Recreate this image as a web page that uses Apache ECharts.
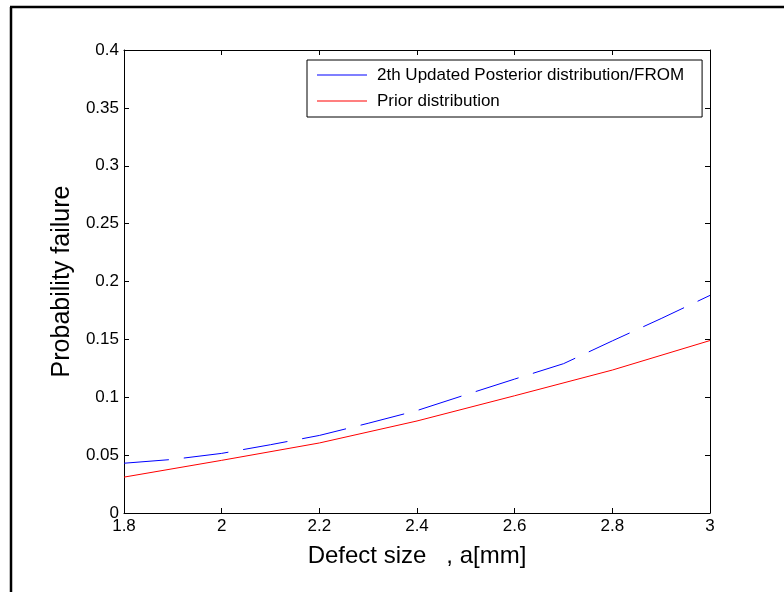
<!DOCTYPE html>
<html>
<head>
<meta charset="utf-8">
<script src="https://cdn.jsdelivr.net/npm/echarts@6/dist/echarts.min.js"></script>
<style>
html,body{margin:0;padding:0;background:#fff;}
#chart{width:784px;height:592px;}
</style>
</head>
<body>
<div id="chart"></div>
<script>
// Data
const posteriorX = [1.8, 1.9, 2.0, 2.1, 2.2, 2.3, 2.4, 2.5, 2.6, 2.7, 2.8, 2.9, 3.0];
const posteriorY = [0.043, 0.0463, 0.0515, 0.059, 0.067, 0.0775, 0.0885, 0.1022, 0.1157, 0.129, 0.1487, 0.168, 0.188];
const priorX = [1.8, 2.0, 2.2, 2.4, 2.6, 2.8, 3.0];
const priorY = [0.031, 0.0455, 0.0605, 0.0795, 0.1013, 0.1235, 0.149];
const seriesNames = ['2th Updated Posterior distribution/FROM', 'Prior distribution'];
const xTitle = 'Defect size   , a[mm]';
const yTitle = 'Probability failure';

const font = 'Arial, "Liberation Sans", Helvetica, sans-serif';
const chart = echarts.init(document.getElementById('chart'), null, {renderer: 'canvas'});

function pairs(xs, ys) { return xs.map((x, i) => [x, ys[i]]); }

const axisCommon = {
  axisLine: {show: true, onZero: false, lineStyle: {color: '#000', width: 1}},
  axisTick: {show: true, inside: true, length: 5, lineStyle: {color: '#000'}},
  splitLine: {show: false}
};

chart.setOption({
  animation: false,
  backgroundColor: '#fff',
  textStyle: {fontFamily: font},
  grid: {left: 124, right: 74, top: 50, bottom: 79},
  graphic: [
    {type: 'line', shape: {x1: 10, y1: 7, x2: 784, y2: 7}, style: {stroke: '#000', lineWidth: 2.5}},
    {type: 'line', shape: {x1: 11, y1: 7, x2: 11, y2: 592}, style: {stroke: '#000', lineWidth: 2.5}}
  ],
  legend: {
    orient: 'vertical',
    left: 307, top: 60,
    padding: [5, 18, 6, 10],
    itemGap: 6,
    itemWidth: 50,
    itemHeight: 14,
    backgroundColor: '#fff',
    borderColor: '#000',
    borderWidth: 1,
    borderRadius: 0,
    textStyle: {fontSize: 17, color: '#000', fontFamily: font, lineHeight: 20, padding: [0, 0, 0, 5]},
    data: [
      {name: seriesNames[0], icon: 'path://M0,0 L50,0 L50,1 L0,1 Z', itemStyle: {color: '#0000ff'}},
      {name: seriesNames[1], icon: 'path://M0,0 L50,0 L50,1 L0,1 Z', itemStyle: {color: '#ff0000'}}
    ]
  },
  xAxis: [
    Object.assign({
      type: 'value', min: 1.8, max: 3, interval: 0.2, position: 'bottom',
      name: xTitle, nameLocation: 'middle', nameGap: 31,
      nameTextStyle: {fontSize: 24, color: '#000', fontFamily: font},
      axisLabel: {fontSize: 17, color: '#000', margin: 5, fontFamily: font}
    }, axisCommon),
    Object.assign({
      type: 'value', min: 1.8, max: 3, interval: 0.2, position: 'top',
      axisLabel: {show: false}
    }, axisCommon)
  ],
  yAxis: [
    Object.assign({
      type: 'value', min: 0, max: 0.4, interval: 0.05, position: 'left',
      name: yTitle, nameLocation: 'middle', nameGap: 48,
      nameTextStyle: {fontSize: 25, color: '#000', fontFamily: font},
      axisLabel: {fontSize: 17, color: '#000', margin: 5, fontFamily: font}
    }, axisCommon),
    Object.assign({
      type: 'value', min: 0, max: 0.4, interval: 0.05, position: 'right',
      axisLabel: {show: false}
    }, axisCommon)
  ],
  series: [
    {
      name: seriesNames[0], type: 'line', symbol: 'none',
      xAxisIndex: 0, yAxisIndex: 0,
      lineStyle: {color: '#0000ff', width: 1, type: [45, 15]},
      itemStyle: {color: '#0000ff'},
      data: pairs(posteriorX, posteriorY)
    },
    {
      name: seriesNames[1], type: 'line', symbol: 'none',
      xAxisIndex: 0, yAxisIndex: 0,
      lineStyle: {color: '#ff0000', width: 1},
      itemStyle: {color: '#ff0000'},
      data: pairs(priorX, priorY)
    }
  ]
});
</script>
</body>
</html>
